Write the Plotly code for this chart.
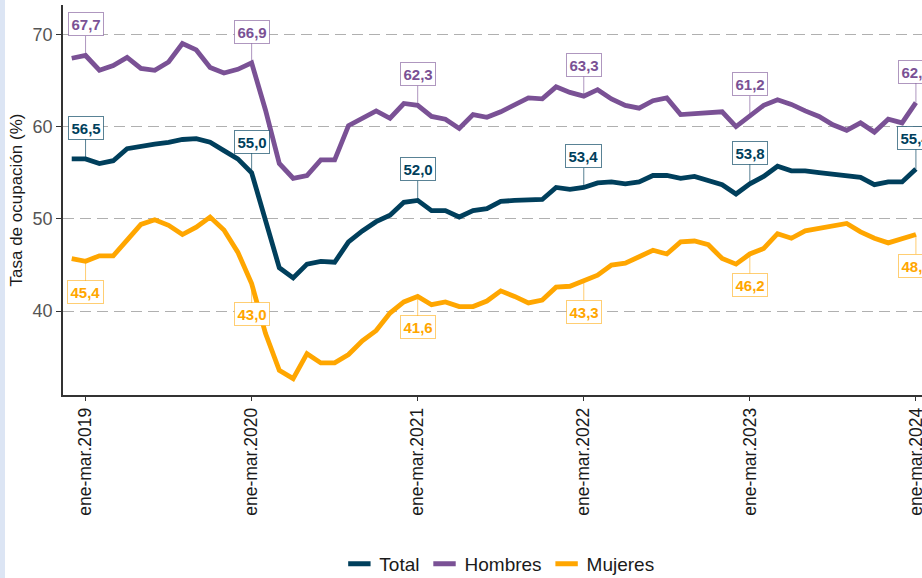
import plotly.graph_objects as go

# Rolling quarters from dic-feb 2019 to ene-mar 2024
meses = ["ene", "feb", "mar", "abr", "may", "jun", "jul", "ago", "sep", "oct", "nov", "dic"]
periodos = []
m, anio = 11, 2019
for _ in range(62):
    periodos.append(f"{meses[m]}-{meses[(m + 2) % 12]}.{anio}")
    m += 1
    if m == 12:
        m = 0
    if m == 11:
        anio += 1

total = [56.5, 56.5, 56.0, 56.3, 57.6, 57.9, 58.1, 58.3, 58.6, 58.7, 58.3, 57.4, 56.5,
         55.0, 49.9, 44.7, 43.6, 45.1, 45.4, 45.3, 47.5, 48.7, 49.7, 50.4, 51.8,
         52.0, 50.9, 50.9, 50.2, 50.9, 51.1, 51.9, 52.0, 52.1, 52.1, 53.4, 53.2,
         53.4, 53.9, 54.0, 53.8, 54.0, 54.7, 54.7, 54.4, 54.6, 54.2, 53.7, 52.7,
         53.8, 54.6, 55.7, 55.2, 55.2, 55.0, 54.8, 54.6, 54.5, 53.7, 54.0, 54.0,
         55.4]
hombres = [67.4, 67.7, 66.1, 66.6, 67.5, 66.3, 66.1, 67.0, 69.0, 68.3, 66.4, 65.8, 66.2,
           66.9, 61.8, 56.0, 54.4, 54.7, 56.4, 56.4, 60.1, 60.9, 61.7, 60.9, 62.5,
           62.3, 61.1, 60.8, 59.8, 61.3, 61.0, 61.6, 62.3, 63.1, 63.0, 64.3, 63.7,
           63.3, 64.0, 63.0, 62.3, 62.0, 62.8, 63.1, 61.3, 61.4, 61.4, 61.6, 60.0,
           61.2, 62.3, 62.9, 62.4, 61.7, 61.1, 60.2, 59.6, 60.4, 59.4, 60.8, 60.4,
           62.6]
mujeres = [45.7, 45.4, 46.0, 46.0, 47.7, 49.4, 49.9, 49.3, 48.3, 49.1, 50.2, 48.8, 46.4,
           43.0, 37.6, 33.6, 32.7, 35.4, 34.4, 34.4, 35.3, 36.8, 37.9, 39.8, 41.0,
           41.6, 40.7, 41.0, 40.5, 40.5, 41.1, 42.2, 41.6, 40.9, 41.2, 42.6, 42.7,
           43.3, 43.9, 45.0, 45.2, 45.9, 46.6, 46.2, 47.5, 47.6, 47.2, 45.7, 45.1,
           46.2, 46.8, 48.4, 47.9, 48.7, 49.0, 49.3, 49.5, 48.6, 47.9, 47.4, 47.8,
           48.3]

tick_labels = ["ene-mar.2019", "ene-mar.2020", "ene-mar.2021",
               "ene-mar.2022", "ene-mar.2023", "ene-mar.2024"]
y_ticks = [40, 50, 60, 70]

series = [
    ("Total", total, "#003f5c", "rgba(0,63,92,0.65)", -31),
    ("Hombres", hombres, "#7a5195", "rgba(122,81,149,0.6)", -31),
    ("Mujeres", mujeres, "#ffa600", "rgba(255,166,0,0.55)", 31),
]

fig = go.Figure()
FONT = "Liberation Sans, Arial, sans-serif"

for name, vals, col, bcol, off in series:
    fig.add_trace(go.Scatter(x=periodos, y=vals, mode="lines", name=name,
                             line=dict(color=col, width=4.8), showlegend=False,
                             hoverinfo="skip"))

for name, vals, col, bcol, off in series:
    fig.add_trace(go.Scatter(x=[None], y=[None], mode="markers", name=name,
                             marker=dict(symbol="line-ew", size=16,
                                         line=dict(color=col, width=5)),
                             showlegend=True))

annotations = []
for name, vals, col, bcol, off in series:
    for lab in tick_labels:
        idx = periodos.index(lab)
        v = vals[idx]
        annotations.append(dict(
            x=lab, y=v, xref="x", yref="y",
            text="<b>" + f"{v:.1f}".replace(".", ",") + "</b>",
            showarrow=True, arrowhead=0, arrowwidth=1, arrowcolor=bcol,
            ax=0, ay=off, standoff=0,
            bgcolor="white", bordercolor=bcol, borderwidth=1, borderpad=2.5,
            font=dict(family=FONT, size=15, color=col),
        ))

plot_w = 922 - 63
fig.update_layout(
    width=922, height=578,
    margin=dict(l=63, r=0, t=5, b=183, autoexpand=False),
    paper_bgcolor="white", plot_bgcolor="white",
    font=dict(family=FONT, color="#1a1a1a"),
    annotations=annotations,
    shapes=[dict(type="rect", xref="paper", yref="paper",
                 x0=-63 / plot_w, x1=-58 / plot_w, y0=-183 / 390, y1=1 + 5 / 390,
                 fillcolor="#dce5f4", line=dict(width=0), layer="below")],
    legend=dict(orientation="h", x=0.508, xanchor="center", y=-0.433, yanchor="middle",
                font=dict(family=FONT, size=19, color="#1a1a1a"),
                itemclick=False, itemdoubleclick=False, traceorder="normal"),
    xaxis=dict(
        type="category", range=[-0.63, 61.44], automargin=False,
        tickmode="array", tickvals=tick_labels, ticktext=tick_labels,
        tickangle=-90, tickfont=dict(family=FONT, size=17.5, color="#1a1a1a"),
        showgrid=False, zeroline=False,
        showline=True, linecolor="#333333", linewidth=1.5,
        ticks="outside", ticklen=4, tickwidth=1.2, tickcolor="#333333",
    ),
    yaxis=dict(
        range=[30.92, 73.17], tickvals=y_ticks, automargin=False,
        tickfont=dict(family=FONT, size=18, color="#555555"),
        showgrid=True, gridcolor="#b0b0b0", gridwidth=1.4, griddash="11px,6px",
        zeroline=False,
        showline=True, linecolor="#333333", linewidth=1.5,
        ticks="outside", ticklen=5, tickwidth=1.2, tickcolor="#333333",
        title=dict(text="Tasa de ocupación (%)", standoff=6,
                   font=dict(family=FONT, size=17, color="#1a1a1a")),
    ),
)

fig.write_html("out.html", config={"displayModeBar": False},
               post_script="document.body.style.margin='0';document.body.style.overflow='hidden';")
